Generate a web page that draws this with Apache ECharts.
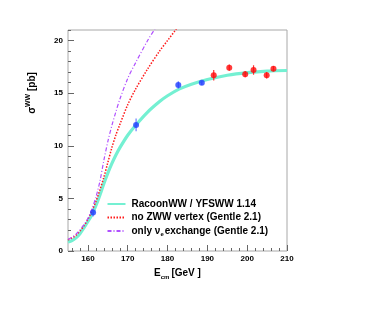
<!DOCTYPE html>
<html>
<head>
<meta charset="utf-8">
<script src="https://cdn.jsdelivr.net/npm/echarts@6/dist/echarts.min.js"></script>
<style>
  html, body { margin: 0; padding: 0; background: #fff; }
  #chart { width: 369px; height: 327px; }
</style>
</head>
<body>
<div id="chart"></div>
<script>
// measured cross sections (blue: early LEP2, red: high energy)
const blueE = [161.3, 172.1, 182.7, 188.6];
const blueSig = [3.67, 11.98, 15.77, 15.98];
const blueErr = [0.4, 0.6, 0.35, 0.2];
const redE = [191.6, 195.5, 199.5, 201.6, 204.9, 206.6];
const redSig = [16.69, 17.42, 16.8, 17.2, 16.7, 17.32];
const redErr = [0.5, 0.3, 0.3, 0.45, 0.3, 0.25];

// theory curves
const racoonE = [155, 156, 157, 158, 159, 160, 161, 162, 163, 164, 165, 166, 167, 168, 170, 172, 175, 178, 180, 183, 186, 190, 195, 200, 205, 210];
const racoonSig = [0.85, 1.0, 1.25, 1.65, 2.2, 2.8, 3.45, 4.3, 5.3, 6.4, 7.4, 8.3, 9.1, 9.8, 11.0, 11.95, 13.2, 14.2, 14.75, 15.4, 15.85, 16.3, 16.7, 16.95, 17.1, 17.15];
const noZwwE = [155, 156, 157, 158, 159, 160, 161, 162, 163, 164, 165, 166, 167, 168, 170, 172, 175, 178, 180, 182, 184];
const noZwwSig = [1.05, 1.25, 1.5, 1.9, 2.4, 3.0, 3.8, 4.7, 5.8, 7.0, 8.4, 9.8, 11.0, 12.0, 13.9, 15.4, 17.3, 19.0, 20.0, 21.0, 22.0];
const nuE = [155, 156, 157, 158, 159, 160, 161, 162, 163, 164, 165, 166, 167, 168, 170, 172, 175, 177, 178];
const nuSig = [1.1, 1.3, 1.6, 2.0, 2.5, 3.1, 4.0, 5.1, 6.6, 8.6, 10.4, 11.9, 13.2, 14.4, 16.4, 17.9, 20.0, 21.2, 21.8];

// tick positions
const xMajor = [160, 170, 180, 190, 200, 210];
const xMinor = [156, 158, 162, 164, 166, 168, 172, 174, 176, 178, 182, 184, 186, 188, 192, 194, 196, 198, 202, 204, 206, 208];
const yMajor = [0, 5, 10, 15, 20];
const yMinor = [1, 2, 3, 4, 6, 7, 8, 9, 11, 12, 13, 14, 16, 17, 18, 19, 21];

const legendNames = ['RacoonWW / YFSWW 1.14', 'no ZWW vertex (Gentle 2.1)', 'only ve exchange (Gentle 2.1)'];

const zip = (xs, ys) => xs.map((x, i) => [x, ys[i]]);
const withErr = (xs, ys, es) => xs.map((x, i) => [x, ys[i] - es[i], ys[i] + es[i]]);

const FONT = '"Liberation Sans", Arial, sans-serif';

const chart = echarts.init(document.getElementById('chart'), null, { renderer: 'canvas' });

function errBar(color) {
  return function (params, api) {
    const lo = api.coord([api.value(0), api.value(1)]);
    const hi = api.coord([api.value(0), api.value(2)]);
    return {
      type: 'line',
      shape: { x1: lo[0], y1: lo[1], x2: hi[0], y2: hi[1] },
      style: { stroke: color, lineWidth: 1.2 }
    };
  };
}

const axisBase = {
  type: 'value',
  splitLine: { show: false },
  axisLine: { show: false }
};

chart.setOption({
  animation: false,
  grid: {
    left: 68, top: 30, width: 219, height: 221,
    show: true, borderColor: '#a8a8a8', borderWidth: 1, backgroundColor: 'transparent'
  },
  xAxis: [
    Object.assign({}, axisBase, {
      min: 155, max: 210, position: 'bottom',
      axisTick: { inside: true, length: 6, customValues: xMajor, lineStyle: { color: '#666' } },
      axisLabel: { customValues: xMajor, fontFamily: FONT, fontWeight: 'bold', fontSize: 8, color: '#000', margin: 4 },
      name: '{b|E}{sub|cm}{b|[GeV ]}',
      nameLocation: 'middle', nameGap: 14,
      nameTextStyle: {
        rich: {
          b: { fontFamily: FONT, fontWeight: 'bold', fontSize: 10, color: '#000', verticalAlign: 'top' },
          sub: { fontFamily: FONT, fontWeight: 'bold', fontSize: 6, color: '#000', padding: [6, 2, 0, 0] }
        }
      }
    }),
    Object.assign({}, axisBase, {
      min: 155, max: 210, position: 'bottom',
      axisTick: { inside: true, length: 3, customValues: xMinor, lineStyle: { color: '#666' } },
      axisLabel: { show: false }
    })
  ],
  yAxis: [
    Object.assign({}, axisBase, {
      min: 0, max: 21, position: 'left',
      axisTick: { inside: true, length: 6, customValues: yMajor, lineStyle: { color: '#666' } },
      axisLabel: { customValues: yMajor, fontFamily: FONT, fontWeight: 'bold', fontSize: 8, color: '#000', margin: 5 }
    }),
    Object.assign({}, axisBase, {
      min: 0, max: 21, position: 'left',
      axisTick: { inside: true, length: 3, customValues: yMinor, lineStyle: { color: '#666' } },
      axisLabel: { show: false }
    })
  ],
  legend: {
    data: legendNames,
    orient: 'vertical',
    left: 106.5, top: 199, padding: 0,
    itemWidth: 18, itemHeight: 10, itemGap: 3.5,
    itemStyle: { opacity: 0, borderWidth: 0 },
    formatter: function (name) {
      if (name === legendNames[2]) return '{b|only ν}{sub|e}{b|exchange (Gentle 2.1)}';
      return '{b|' + name + '}';
    },
    textStyle: {
      rich: {
        b: { fontFamily: FONT, fontWeight: 'bold', fontSize: 10, color: '#000', padding: [0, 0, 0, 1] },
        sub: { fontFamily: FONT, fontWeight: 'bold', fontSize: 6, color: '#000', padding: [6, 0, 0, 0] }
      }
    }
  },
  graphic: [{
    type: 'text',
    x: 32, y: 93,
    rotation: Math.PI / 2,
    style: {
      text: '{s|σ}{sup|WW}{b| [pb]}',
      align: 'center', verticalAlign: 'middle',
      rich: {
        s: { fontFamily: FONT, fontWeight: 'bold', fontSize: 10, color: '#000' },
        sup: { fontFamily: FONT, fontWeight: 'bold', fontSize: 7, color: '#000', padding: [0, 0, 7, 0] },
        b: { fontFamily: FONT, fontWeight: 'bold', fontSize: 10, color: '#000' }
      }
    }
  }],
  series: [
    {
      name: legendNames[0], type: 'line', data: zip(racoonE, racoonSig),
      smooth: 0.3, showSymbol: false, symbol: 'none', z: 2,
      lineStyle: { color: '#74f0d2', width: 3.2 }, itemStyle: { color: '#74f0d2' }
    },
    {
      name: legendNames[1], type: 'line', data: zip(noZwwE, noZwwSig),
      smooth: 0.3, showSymbol: false, symbol: 'none', z: 3,
      lineStyle: { color: '#ff1a1a', width: 1.5, type: [1.5, 1.5] }, itemStyle: { color: '#ff1a1a' }
    },
    {
      name: legendNames[2], type: 'line', data: zip(nuE, nuSig),
      smooth: 0.3, showSymbol: false, symbol: 'none', z: 3,
      lineStyle: { color: '#b050ff', width: 1.2, type: [4, 2, 1, 2] }, itemStyle: { color: '#b050ff' }
    },
    {
      type: 'custom', data: withErr(blueE, blueSig, blueErr), z: 4,
      renderItem: errBar('#6a7dff'), encode: { x: 0, y: [1, 2] }
    },
    {
      type: 'custom', data: withErr(redE, redSig, redErr), z: 4,
      renderItem: errBar('#ff3030'), encode: { x: 0, y: [1, 2] }
    },
    {
      type: 'scatter', data: zip(blueE, blueSig), symbol: 'circle', symbolSize: 6, z: 5,
      itemStyle: { color: '#1f3dff' }
    },
    {
      type: 'scatter', data: zip(redE, redSig), symbol: 'circle', symbolSize: 6, z: 5,
      itemStyle: { color: '#ff0a0a' }
    }
  ]
});
</script>
</body>
</html>
